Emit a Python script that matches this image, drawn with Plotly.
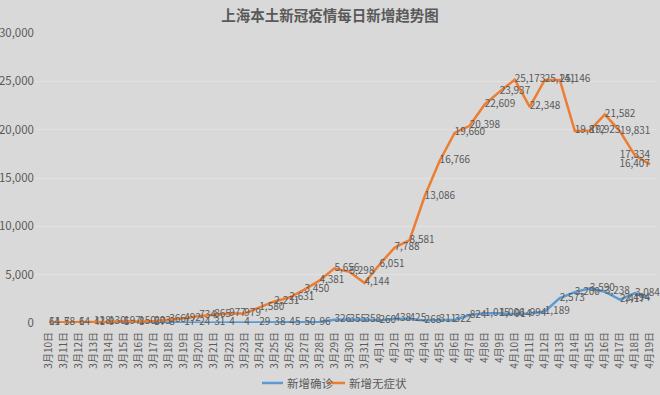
import plotly.graph_objects as go

dates = [f"3月{d}日" for d in range(10, 32)] + [f"4月{d}日" for d in range(1, 20)]

confirmed = [11, 5, 1, 41, 9, 5, 8, 57, 8, 17, 24, 31, 4, 4, 29, 38, 45, 50, 96,
             326, 355, 358, 260, 438, 425, 268, 311, 322, 824, 1015, 1006, 914,
             994, 1189, 2573, 3200, 3590, 3238, 2417, 3084, 2494]

asymptomatic = [64, 78, 64, 128, 130, 197, 150, 203, 366, 492, 734, 865, 977, 979,
                1580, 2231, 2631, 3450, 4381, 5656, 5298, 4144, 6051, 7788, 8581,
                13086, 16766, 19660, 20398, 22609, 23937, 25173, 22348, 25141,
                25146, 19872, 19923, 21582, 19831, 17334, 16407]

series_names = ["新增确诊", "新增无症状"]
colors = ["#5B9BD5", "#ED7D31"]
txt_color = "#595959"
font_family = "Noto Sans CJK SC, Noto Sans, sans-serif"

W, H = 660, 395
ML, MR, MT, MB = 35, 3, 33, 72
PW, PH = W - ML - MR, H - MT - MB


def px_x(p):
    return (p - ML) / PW


def px_y(p):
    return (H - MB - p) / PH


end_pos = {
    "新增确诊": ["middle right", "middle left"],
    "新增无症状": ["middle center", "middle left"],
}

fig = go.Figure()
for name, vals, col in zip(series_names, [confirmed, asymptomatic], colors):
    pos = ["middle right"] * (len(vals) - 2) + end_pos[name]
    fig.add_trace(go.Scatter(
        x=dates, y=vals, name=name, mode="lines+text",
        line=dict(color=col, width=2.5),
        text=[f"{v:,}" for v in vals],
        textposition=pos,
        textfont=dict(size=10, color=txt_color, family=font_family),
        cliponaxis=False, showlegend=False,
    ))

# manual legend (compact, like the reference)
legend_items = [("新增确诊", colors[0], 262, 283), ("新增无症状", colors[1], 327, 345)]
for label, col, x0, x1 in legend_items:
    fig.add_shape(type="line", xref="paper", yref="paper",
                  x0=px_x(x0), x1=px_x(x1), y0=px_y(383), y1=px_y(383),
                  line=dict(color=col, width=2.5))
    fig.add_annotation(text=label, xref="paper", yref="paper", x=px_x(x1 + 2), y=px_y(383),
                       xanchor="left", yanchor="middle", showarrow=False,
                       font=dict(size=11.5, color=txt_color, family=font_family))

fig.update_layout(
    width=W, height=H,
    margin=dict(l=ML, r=MR, t=MT, b=MB),
    paper_bgcolor="#d9d9d9",
    plot_bgcolor="#d9d9d9",
    font=dict(family=font_family, color=txt_color, size=11),
    title=dict(text="<b>上海本土新冠疫情每日新增趋势图</b>", x=0.5, xanchor="center",
               y=1 - 16 / H, yanchor="middle",
               font=dict(size=14.5, color=txt_color, family=font_family)),
    showlegend=False,
    xaxis=dict(type="category", range=[-0.93, 40.47], showgrid=False, zeroline=False,
               showline=False, ticks="", tickangle=-90, automargin=False,
               ticklabelstandoff=6,
               tickfont=dict(size=10, color=txt_color), categoryorder="array",
               categoryarray=dates),
    yaxis=dict(range=[0, 30000], dtick=5000, tickformat=",d", showgrid=True,
               gridcolor="#e2e2e2", gridwidth=1, zeroline=False, showline=False,
               ticks="", automargin=False, tickfont=dict(size=11.5, color=txt_color)),
)

fig.write_html("out.html", config={"displayModeBar": False},
               post_script="document.body.style.margin='0';document.body.style.background='#d9d9d9';")
